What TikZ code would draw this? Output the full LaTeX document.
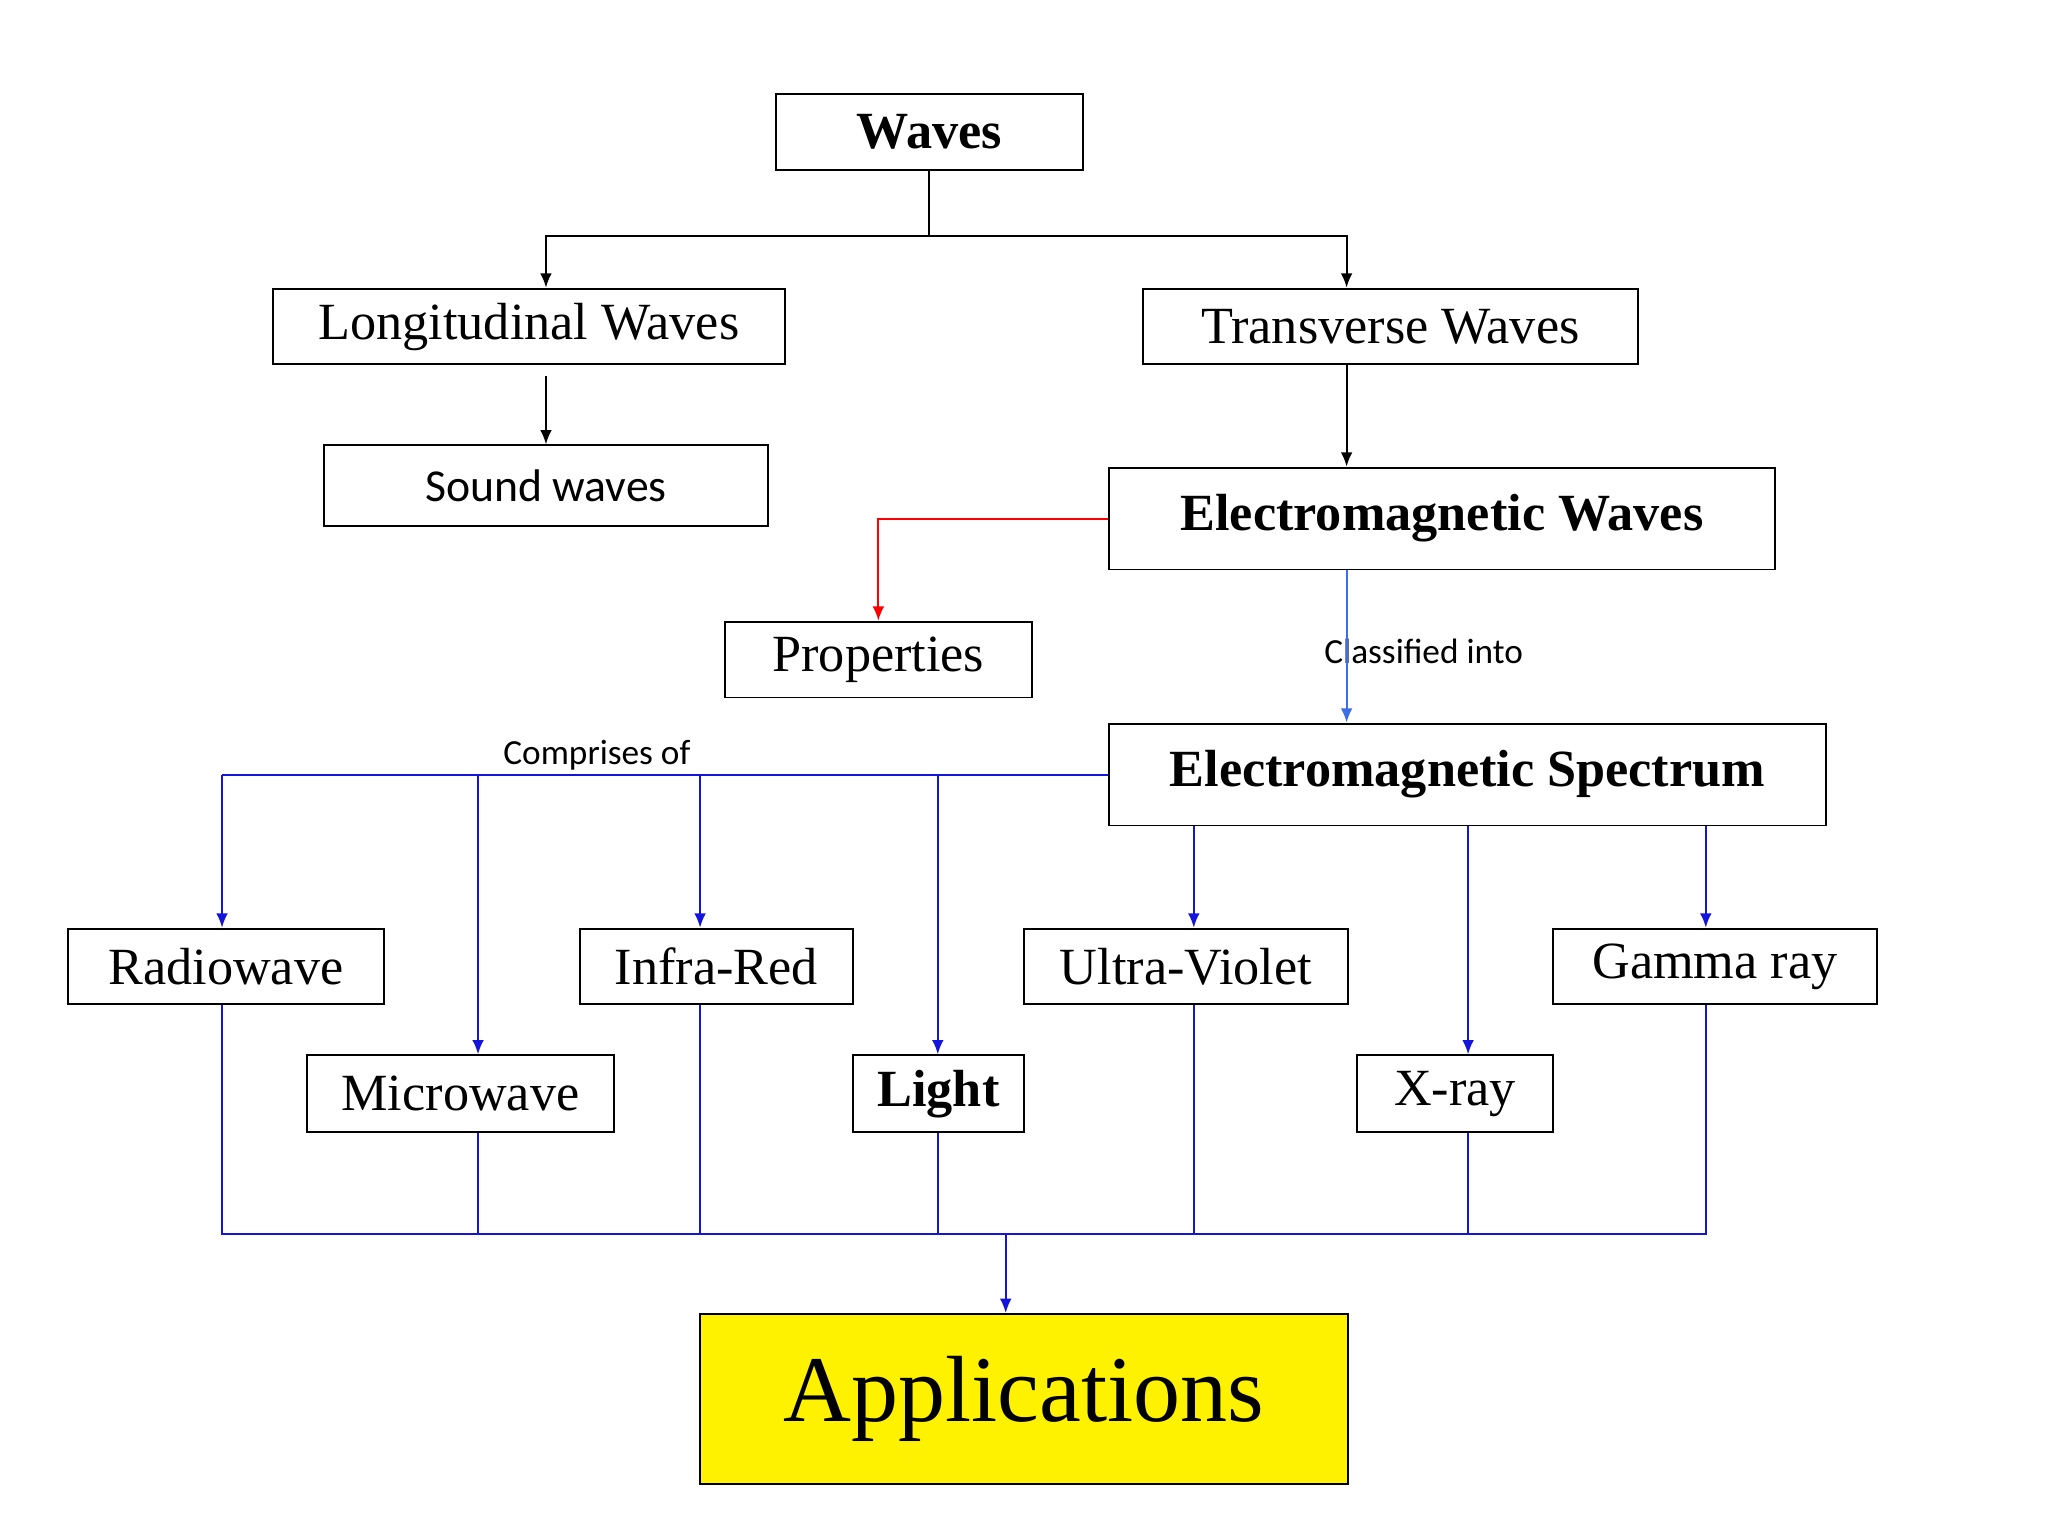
\documentclass[tikz,border=0pt]{standalone}
\usepackage{fontspec}
\setmainfont{Liberation Serif}
\newfontfamily\carl{Carlito}
\usetikzlibrary{arrows.meta}
\definecolor{eb}{RGB}{20,20,220}
\definecolor{lb}{RGB}{60,110,230}
\begin{document}
\begin{tikzpicture}[x=1pt,y=-1pt,
 box/.style={draw,line width=1.5pt,inner sep=0pt,font=\fontsize{40}{44}\selectfont},
 bl/.style={draw=eb,line width=1.5pt},
 ar/.style={-{Latex[length=11pt,width=9pt]}},
 bk/.style={line width=1.5pt}]
\useasboundingbox[fill=white] (0,0) rectangle (1568,1176);
\node[box,minimum width=235,minimum height=58,font=\fontsize{40}{44}\selectfont\bfseries] (W) at (711.5,101) {Waves};
\node[box,minimum width=392,minimum height=58] (L) at (405,250) {Longitudinal Waves};
\node[box,minimum width=379,minimum height=58] (T) at (1064.5,250) {Transverse Waves};
\node[box,minimum width=340,minimum height=62,font=\fontsize{35}{40}\carl] (S) at (418,372) {Sound waves};
\node[box,minimum width=510,minimum height=78,font=\fontsize{40}{44}\selectfont\bfseries] (EW) at (1104,397) {Electromagnetic Waves};
\node[box,minimum width=235,minimum height=58] (P) at (672.5,505) {Properties};
\node[box,minimum width=549,minimum height=78,font=\fontsize{40}{44}\selectfont\bfseries] (ES) at (1123.5,593) {Electromagnetic Spectrum};
\node[box,minimum width=242,minimum height=58] (R) at (173,740) {Radiowave};
\node[box,minimum width=235,minimum height=59] (M) at (352.5,837.5) {Microwave};
\node[box,minimum width=209,minimum height=58] (I) at (548.5,740) {Infra-Red};
\node[box,minimum width=131,minimum height=59,font=\fontsize{40}{44}\selectfont\bfseries] (Li) at (718.5,837.5) {Light};
\node[box,minimum width=248,minimum height=58] (U) at (908,740) {Ultra-Violet};
\node[box,minimum width=150,minimum height=59] (X) at (1114,837.5) {X-ray};
\node[box,minimum width=248,minimum height=58] (G) at (1313,740) {Gamma ray};
\node[box,fill=yellow,minimum width=496,minimum height=130,font=\fontsize{72}{80}\selectfont] (A) at (784,1071) {Applications};
\node[font=\fontsize{27}{30}\carl] at (1090,499) {Classified into};
\node[font=\fontsize{27}{30}\carl] at (457,578) {Comprises of};
% black connectors
\coordinate (j) at (711.5,181);
\draw[bk] (W.south) -- (j);
\draw[bk,ar] (j) -| (L.north -| 418,0);
\draw[bk,ar] (j) -| (T.north -| 1031,0);
\draw[bk,ar] (418,288) -- (S.north -| 418,0);
\draw[bk,ar] (T.south -| 1031,0) -- (EW.north -| 1031,0);
\draw[line width=1.5pt,red,ar] (EW.west) -| (P.north);
\draw[line width=1.5pt,lb,ar] (EW.south -| 1031,0) -- (ES.north -| 1031,0);
% spectrum branches
\draw[bl] (ES.west) -- (170,593);
\draw[bl,ar] (170,593) -- (R.north -| 170,0);
\draw[bl,ar] (366,593) -- (M.north -| 366,0);
\draw[bl,ar] (536,593) -- (I.north -| 536,0);
\draw[bl,ar] (718,593) -- (Li.north -| 718,0);
\draw[bl,ar] (ES.south -| 914,0) -- (U.north -| 914,0);
\draw[bl,ar] (ES.south -| 1124,0) -- (X.north -| 1124,0);
\draw[bl,ar] (ES.south -| 1306,0) -- (G.north -| 1306,0);
% to applications
\coordinate (b) at (770,945);
\draw[bl] (R.south -| 170,0) |- (1306,945) -- (G.south -| 1306,0);
\draw[bl] (M.south -| 366,0) -- (366,945);
\draw[bl] (I.south -| 536,0) -- (536,945);
\draw[bl] (Li.south -| 718,0) -- (718,945);
\draw[bl] (U.south -| 914,0) -- (914,945);
\draw[bl] (X.south -| 1124,0) -- (1124,945);
\draw[bl,ar] (b) -- (A.north -| b);
\end{tikzpicture}
\end{document}
